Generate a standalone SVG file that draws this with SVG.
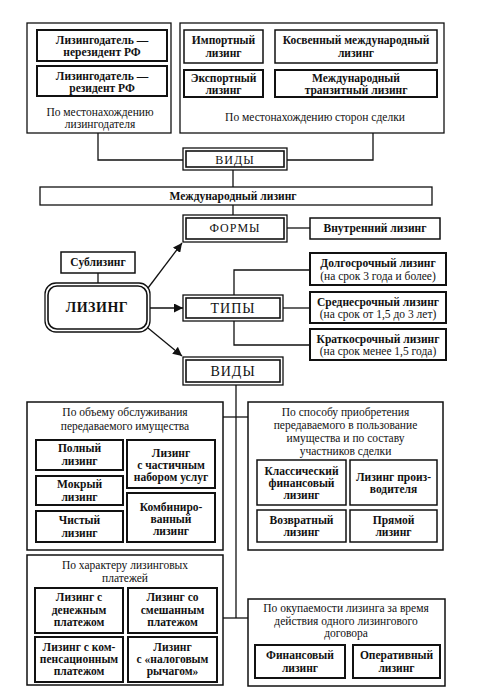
<svg xmlns="http://www.w3.org/2000/svg" width="501" height="700" viewBox="0 0 501 700">
<defs>
<style>
.c{fill:none;stroke:#111;stroke-width:1.3}
.ct{fill:#fff;stroke:#111;stroke-width:1.3}
.bx{fill:#fff;stroke:#111;stroke-width:1.5}
.bk{fill:#fff;stroke:#111;stroke-width:2}
.in{fill:none;stroke:#111;stroke-width:1.6}
.r,.b,.h,.hl,.ll{font-family:'Liberation Serif';fill:#111;text-anchor:middle}
.r{font-size:11.5px}
.b{font-size:11.5px;font-weight:bold}
.h{font-size:12px;letter-spacing:1px}
.hl{font-size:14px;letter-spacing:1px}
.ll{font-size:14px;font-weight:bold;letter-spacing:0.5px}
</style>
<marker id="ar" viewBox="0 0 10 10" refX="10" refY="5" markerWidth="9" markerHeight="9" markerUnits="userSpaceOnUse" orient="auto">
<path d="M0,0 L10,5 L0,10 z" fill="#111"/>
</marker>
</defs>
<rect width="501" height="700" fill="#fff"/>

<g id="connectors">
<polyline class="c" points="98,133 98,160 183,160"/>
<polyline class="c" points="373,133 373,160 287,160"/>
<line class="c" x1="233" y1="170" x2="233" y2="187"/>
<line class="c" x1="233" y1="205" x2="233" y2="215"/>
<line class="c" x1="287" y1="228" x2="310" y2="228"/>
<line class="c" x1="98" y1="273" x2="98" y2="283"/>
<line class="c" x1="148" y1="288" x2="182" y2="243" marker-end="url(#ar)"/>
<line class="c" x1="150" y1="308" x2="183" y2="308" marker-end="url(#ar)"/>
<line class="c" x1="148" y1="328" x2="182" y2="356" marker-end="url(#ar)"/>
<polyline class="c" points="310,270 234,270 234,345 310,345"/>
<line class="c" x1="283" y1="308" x2="310" y2="308"/>
<line class="c" x1="236" y1="385" x2="236" y2="618"/>
<line class="c" x1="223" y1="417" x2="248" y2="417"/>
<line class="c" x1="223" y1="618" x2="248" y2="618"/>
</g>

<g id="lessor-location">
<rect class="ct" x="27" y="23" width="144" height="110"/>
<text class="r" x="100" y="115.5">По местонахождению</text>
<text class="r" x="100" y="128">лизингодателя</text>
</g>
<g id="nonresident">
<rect class="bk" x="37" y="30" width="130" height="31"/>
<text class="b" x="102" y="44">Лизингодатель —</text>
<text class="b" x="102" y="56">нерезидент РФ</text>
</g>
<g id="resident">
<rect class="bk" x="37" y="66" width="130" height="30"/>
<text class="b" x="102" y="80">Лизингодатель —</text>
<text class="b" x="102" y="92">резидент РФ</text>
</g>

<g id="parties-location">
<rect class="ct" x="180" y="23" width="264" height="110"/>
<text class="r" x="315" y="121">По местонахождению сторон сделки</text>
</g>
<g id="import">
<rect class="bx" x="184" y="30" width="79" height="33"/>
<text class="b" x="223.5" y="44">Импортный</text>
<text class="b" x="223.5" y="57">лизинг</text>
</g>
<g id="indirect">
<rect class="bx" x="275" y="30" width="162" height="33"/>
<text class="b" x="356" y="44">Косвенный международный</text>
<text class="b" x="356" y="57">лизинг</text>
</g>
<g id="export">
<rect class="bk" x="184" y="70" width="79" height="27"/>
<text class="b" x="223.5" y="82">Экспортный</text>
<text class="b" x="223.5" y="94">лизинг</text>
</g>
<g id="transit">
<rect class="bk" x="275" y="70" width="162" height="27"/>
<text class="b" x="356" y="82">Международный</text>
<text class="b" x="356" y="94">транзитный лизинг</text>
</g>

<g id="vidy-top">
<rect class="ct" x="183" y="148" width="104" height="22"/>
<rect class="in" x="186" y="151" width="98" height="16"/>
<text class="h" x="235" y="164">ВИДЫ</text>
</g>
<g id="international">
<rect class="ct" x="40" y="187" width="392" height="18"/>
<text class="b" x="233" y="200">Международный лизинг</text>
</g>
<g id="formy">
<rect class="ct" x="183" y="215" width="104" height="27"/>
<rect class="in" x="186" y="218" width="98" height="21"/>
<text class="h" x="235" y="232">ФОРМЫ</text>
</g>
<g id="domestic">
<rect class="bx" x="310" y="218" width="130" height="21"/>
<text class="b" x="375" y="232">Внутренний лизинг</text>
</g>

<g id="sublease">
<rect class="bx" x="61" y="252" width="74" height="21"/>
<text class="b" x="98" y="266">Сублизинг</text>
</g>
<g id="leasing">
<rect class="ct" x="45" y="283" width="105" height="49" rx="11"/>
<rect class="in" x="48" y="286" width="99" height="43" rx="9"/>
<text class="ll" x="97" y="312">ЛИЗИНГ</text>
</g>

<g id="tipy">
<rect class="ct" x="183" y="295" width="100" height="26"/>
<rect class="in" x="186" y="298" width="94" height="20"/>
<text class="hl" x="233" y="313">ТИПЫ</text>
</g>
<g id="long-term">
<rect class="bk" x="310" y="253" width="136" height="32"/>
<text class="b" x="378" y="267">Долгосрочный лизинг</text>
<text class="r" x="378" y="280">(на срок 3 года и более)</text>
</g>
<g id="mid-term">
<rect class="bk" x="310" y="292" width="136" height="31"/>
<text class="b" x="378" y="306">Среднесрочный лизинг</text>
<text class="r" x="378" y="318">(на срок от 1,5 до 3 лет)</text>
</g>
<g id="short-term">
<rect class="bk" x="310" y="329" width="136" height="31"/>
<text class="b" x="378" y="343">Краткосрочный лизинг</text>
<text class="r" x="378" y="355">(на срок менее 1,5 года)</text>
</g>

<g id="vidy">
<rect class="ct" x="183" y="357" width="100" height="28"/>
<rect class="in" x="186" y="360" width="94" height="22"/>
<text class="hl" x="233" y="376">ВИДЫ</text>
</g>

<g id="service-volume">
<rect class="bx" x="27" y="402" width="196" height="148"/>
<text class="r" x="125" y="416">По объему обслуживания</text>
<text class="r" x="125" y="430">передаваемого имущества</text>
</g>
<g id="full">
<rect class="bk" x="36" y="440" width="87" height="30"/>
<text class="b" x="79.5" y="452">Полный</text>
<text class="b" x="79.5" y="465">лизинг</text>
</g>
<g id="wet">
<rect class="bk" x="36" y="476" width="87" height="29"/>
<text class="b" x="79.5" y="488">Мокрый</text>
<text class="b" x="79.5" y="501">лизинг</text>
</g>
<g id="net">
<rect class="bk" x="36" y="511" width="87" height="31"/>
<text class="b" x="79.5" y="524">Чистый</text>
<text class="b" x="79.5" y="537">лизинг</text>
</g>
<g id="partial">
<rect class="bk" x="127" y="440" width="88" height="48"/>
<text class="b" x="171" y="457">Лизинг</text>
<text class="b" x="171" y="469">с частичным</text>
<text class="b" x="171" y="481">набором услуг</text>
</g>
<g id="combined">
<rect class="bk" x="127" y="493" width="88" height="49"/>
<text class="b" x="171" y="511">Комбиниро-</text>
<text class="b" x="171" y="523">ванный</text>
<text class="b" x="171" y="535">лизинг</text>
</g>

<g id="acquisition">
<rect class="bx" x="248" y="402" width="195" height="148"/>
<text class="r" x="345.5" y="416">По способу приобретения</text>
<text class="r" x="345.5" y="429">передаваемого в пользование</text>
<text class="r" x="345.5" y="442">имущества и по составу</text>
<text class="r" x="345.5" y="455">участников сделки</text>
</g>
<g id="classic">
<rect class="bx" x="257" y="460" width="89" height="45"/>
<text class="b" x="301.5" y="475">Классический</text>
<text class="b" x="301.5" y="487">финансовый</text>
<text class="b" x="301.5" y="499">лизинг</text>
</g>
<g id="producer">
<rect class="bx" x="350" y="460" width="87" height="45"/>
<text class="b" x="393.5" y="481">Лизинг произ-</text>
<text class="b" x="393.5" y="493">водителя</text>
</g>
<g id="return">
<rect class="bx" x="257" y="510" width="89" height="32"/>
<text class="b" x="301.5" y="524">Возвратный</text>
<text class="b" x="301.5" y="536">лизинг</text>
</g>
<g id="direct">
<rect class="bx" x="350" y="510" width="87" height="32"/>
<text class="b" x="393.5" y="524">Прямой</text>
<text class="b" x="393.5" y="536">лизинг</text>
</g>

<g id="payments">
<rect class="bx" x="27" y="555" width="196" height="130"/>
<text class="r" x="125" y="569">По характеру лизинговых</text>
<text class="r" x="125" y="581.5">платежей</text>
</g>
<g id="cash">
<rect class="bk" x="35" y="588" width="88" height="45"/>
<text class="b" x="79" y="601">Лизинг с</text>
<text class="b" x="79" y="614">денежным</text>
<text class="b" x="79" y="626">платежом</text>
</g>
<g id="mixed">
<rect class="bk" x="128" y="588" width="89" height="45"/>
<text class="b" x="172.5" y="601">Лизинг со</text>
<text class="b" x="172.5" y="614">смешанным</text>
<text class="b" x="172.5" y="626">платежом</text>
</g>
<g id="compensation">
<rect class="bk" x="35" y="637" width="88" height="45"/>
<text class="b" x="79" y="651">Лизинг с ком-</text>
<text class="b" x="79" y="663">пенсационным</text>
<text class="b" x="79" y="675">платежом</text>
</g>
<g id="tax-lever">
<rect class="bk" x="128" y="637" width="89" height="45"/>
<text class="b" x="172.5" y="651">Лизинг</text>
<text class="b" x="172.5" y="663">с «налоговым</text>
<text class="b" x="172.5" y="675">рычагом»</text>
</g>

<g id="payback">
<rect class="bx" x="248" y="599" width="197" height="87"/>
<text class="r" x="346" y="612">По окупаемости лизинга за время</text>
<text class="r" x="346" y="624.5">действия одного лизингового</text>
<text class="r" x="346" y="637">договора</text>
</g>
<g id="financial">
<rect class="bk" x="255" y="645" width="90" height="33"/>
<text class="b" x="300" y="659">Финансовый</text>
<text class="b" x="300" y="672">лизинг</text>
</g>
<g id="operating">
<rect class="bk" x="353" y="645" width="87" height="33"/>
<text class="b" x="396.5" y="659">Оперативный</text>
<text class="b" x="396.5" y="672">лизинг</text>
</g>
</svg>
